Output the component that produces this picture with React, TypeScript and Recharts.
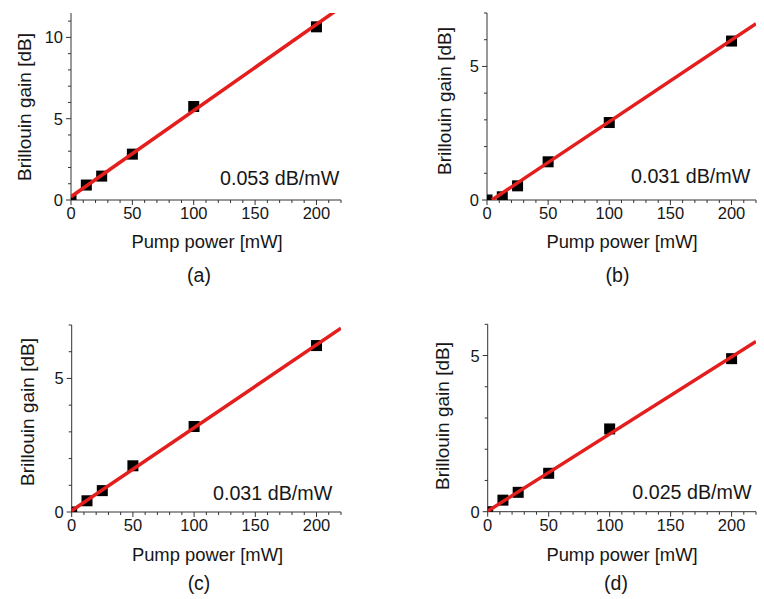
import { Scatter, ScatterChart, XAxis, YAxis } from 'recharts';

const pumpPower = [0, 12.5, 25, 50, 100, 200];
const gainA = [0, 0.92, 1.47, 2.82, 5.75, 10.65];
const gainB = [0, 0.12, 0.53, 1.43, 2.9, 5.95];
const gainC = [0, 0.42, 0.8, 1.73, 3.2, 6.23];
const gainD = [0, 0.37, 0.62, 1.23, 2.65, 4.9];

// linear fit end points (x in mW, y in dB)
const fitXA = [0, 220];
const fitYA = [0.2, 11.86];
const fitXB = [4, 220];
const fitYB = [0, 6.6];
const fitXC = [0, 220];
const fitYC = [0.05, 6.88];
const fitXD = [0, 220];
const fitYD = [0.02, 5.45];

const slopes = ['0.053 dB/mW', '0.031 dB/mW', '0.031 dB/mW', '0.025 dB/mW'];
const letters = ['(a)', '(b)', '(c)', '(d)'];

const xTicks = [0, 10, 20, 30, 40, 50, 60, 70, 80, 90, 100, 110, 120, 130, 140, 150, 160, 170, 180, 190, 200, 210, 220];
const xLabels = [0, 50, 100, 150, 200];
const yTicksA = [0, 1, 2, 3, 4, 5, 6, 7, 8, 9, 10, 11];
const yLabelsA = [0, 5, 10];
const yTicksB = [0, 1, 2, 3, 4, 5, 6, 7];
const yTicksD = [0, 1, 2, 3, 4, 5, 6];
const yLabelsB = [0, 5];

const FONT = '"Liberation Sans", Arial, sans-serif';
const AXIS = '#333';
const TEXT = '#161616';
const RED = '#e41e1c';

const toRows = (xs: number[], ys: number[]) => xs.map((x, i) => ({ x, y: ys[i] }));

const Square = (p: any) => <rect x={p.cx - 5.5} y={p.cy - 5.5} width={11} height={11} fill="#000" />;
const Nothing = () => null;

const XTick = (p: any) => {
  const major = xLabels.includes(p.payload.value);
  return (
    <g>
      <line x1={p.x} x2={p.x} y1={p.y} y2={p.y + (major ? 5 : 3)} stroke={AXIS} />
      {major && (
        <text x={p.x} y={p.y + 19} textAnchor="middle" fontSize={16.5} fontFamily={FONT} fill={TEXT}>
          {p.payload.value}
        </text>
      )}
    </g>
  );
};

const makeYTick = (labels: number[]) => (p: any) => {
  const major = labels.includes(p.payload.value);
  return (
    <g>
      <line x1={p.x} x2={p.x - (major ? 5 : 3)} y1={p.y} y2={p.y} stroke={AXIS} />
      {major && (
        <text x={p.x - 8} y={p.y + 6} textAnchor="end" fontSize={16.5} fontFamily={FONT} fill={TEXT}>
          {p.payload.value}
        </text>
      )}
    </g>
  );
};

type PanelProps = {
  left: number;
  top: number;
  margin: { top: number; right: number; bottom: number; left: number };
  points: { x: number; y: number }[];
  fit: { x: number; y: number }[];
  yMax: number;
  yTicks: number[];
  yLabels: number[];
  slope: string;
  letter: string;
  yTitle: [number, number];
  xTitle: [number, number];
  letterPos: [number, number];
  slopePos: [number, number];
};

function Txt({ x, y, size, children, rotate, anchor }: any) {
  const tx = anchor === 'start' ? '0' : '-50%';
  return (
    <div
      style={{
        position: 'absolute',
        left: x,
        top: y,
        fontSize: size,
        fontFamily: FONT,
        color: TEXT,
        lineHeight: 1,
        whiteSpace: 'nowrap',
        transform: `translate(${tx}, -50%)${rotate ? ' rotate(-90deg)' : ''}`,
        transformOrigin: rotate ? '50% 50%' : undefined,
      }}
    >
      {children}
    </div>
  );
}

function Panel(props: PanelProps) {
  const { left, top, margin, points, fit, yMax, yTicks, yLabels } = props;
  return (
    <div style={{ position: 'absolute', left, top, width: 382, height: 300 }}>
      <ScatterChart width={382} height={300} margin={margin}>
        <XAxis
          type="number"
          dataKey="x"
          domain={[0, 220]}
          ticks={xTicks}
          interval={0}
          tickSize={0}
          tickMargin={0}
          tickLine={false}
          tick={XTick}
          height={30}
          stroke={AXIS}
          allowDataOverflow
        />
        <YAxis
          type="number"
          dataKey="y"
          domain={[0, yMax]}
          ticks={yTicks}
          interval={0}
          tickSize={0}
          tickMargin={0}
          tickLine={false}
          tick={makeYTick(yLabels)}
          width={40}
          stroke={AXIS}
          allowDataOverflow
        />
        <Scatter data={points} shape={Square} isAnimationActive={false} />
        <Scatter
          data={fit}
          shape={Nothing}
          line={{ stroke: RED, strokeWidth: 3.5 }}
          isAnimationActive={false}
        />
      </ScatterChart>
      <Txt x={props.yTitle[0]} y={props.yTitle[1]} size={19} rotate>
        Brillouin gain [dB]
      </Txt>
      <Txt x={props.xTitle[0]} y={props.xTitle[1]} size={18.4}>
        Pump power [mW]
      </Txt>
      <Txt x={props.letterPos[0]} y={props.letterPos[1]} size={19.5}>
        {props.letter}
      </Txt>
      <Txt x={props.slopePos[0]} y={props.slopePos[1]} size={19.7} anchor="start">
        {props.slope}
      </Txt>
    </div>
  );
}

export default function App() {
  return (
    <div style={{ position: 'absolute', left: 0, top: 0, width: 764, height: 599, background: '#fff' }}>
      <Panel
        left={0}
        top={0}
        margin={{ top: 13, right: 41, bottom: 70, left: 31 }}
        points={toRows(pumpPower, gainA)}
        fit={toRows(fitXA, fitYA)}
        yMax={11.5}
        yTicks={yTicksA}
        yLabels={yLabelsA}
        slope={slopes[0]}
        letter={letters[0]}
        yTitle={[24, 106.5]}
        xTitle={[207, 242]}
        letterPos={[199, 276]}
        slopePos={[220, 178.5]}
      />
      <Panel
        left={382}
        top={0}
        margin={{ top: 13, right: 8, bottom: 70, left: 65 }}
        points={toRows(pumpPower, gainB)}
        fit={toRows(fitXB, fitYB)}
        yMax={7}
        yTicks={yTicksB}
        yLabels={yLabelsB}
        slope={slopes[1]}
        letter={letters[1]}
        yTitle={[61.5, 101]}
        xTitle={[240, 242]}
        letterPos={[235.5, 276]}
        slopePos={[249, 176.5]}
      />
      <Panel
        left={0}
        top={300}
        margin={{ top: 25, right: 41, bottom: 58, left: 31.7 }}
        points={toRows(pumpPower, gainC)}
        fit={toRows(fitXC, fitYC)}
        yMax={7}
        yTicks={yTicksB}
        yLabels={yLabelsB}
        slope={slopes[2]}
        letter={letters[2]}
        yTitle={[27, 112]}
        xTitle={[207.5, 255]}
        letterPos={[199, 284]}
        slopePos={[213, 193.5]}
      />
      <Panel
        left={382}
        top={300}
        margin={{ top: 24.3, right: 8, bottom: 58.3, left: 65.7 }}
        points={toRows(pumpPower, gainD)}
        fit={toRows(fitXD, fitYD)}
        yMax={6}
        yTicks={yTicksD}
        yLabels={yLabelsB}
        slope={slopes[3]}
        letter={letters[3]}
        yTitle={[60, 115.5]}
        xTitle={[240, 255]}
        letterPos={[234, 284]}
        slopePos={[250.3, 192.5]}
      />
    </div>
  );
}
